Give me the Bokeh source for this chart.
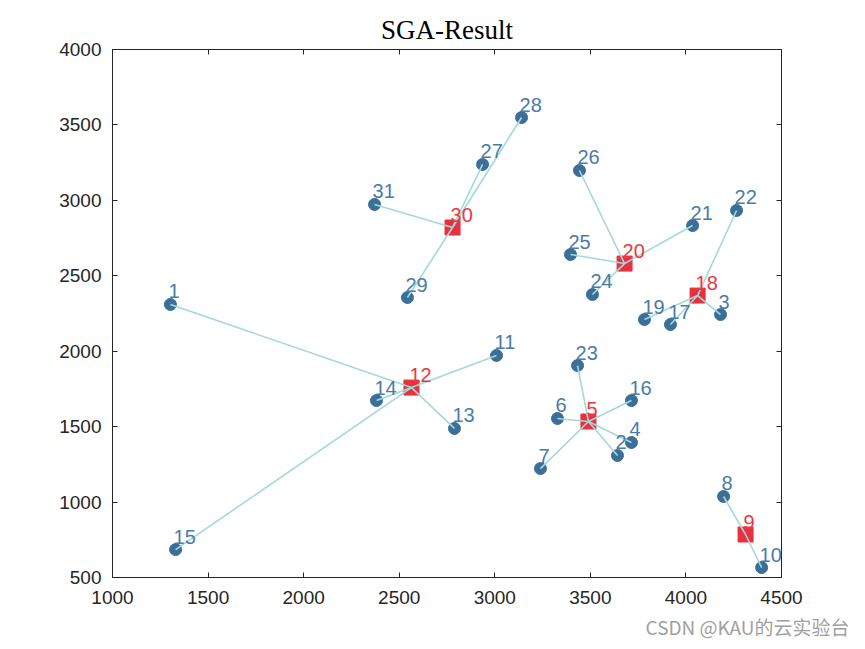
from bokeh.plotting import figure
from bokeh.models import (FixedTicker, LinearAxis, Title, Range1d,
                          CustomJSTickFormatter)
from bokeh.core.properties import value
from bokeh.embed import file_html
from bokeh.resources import INLINE

# node coordinates (node id = index + 1)
node_x = [1303, 3642, 4181, 3715, 3490, 3328, 3239, 4197, 4312, 4396,
          3009, 2564, 2789, 2381, 1330, 3715, 3919, 4061, 3783, 3679,
          4035, 4265, 3433, 3511, 3396, 3443, 2936, 3140, 2543, 2779, 2371]
node_y = [2310, 1309, 2243, 1395, 1534, 1554, 1222, 1037, 785, 566,
          1972, 1759, 1488, 1673, 685, 1673, 2177, 2369, 2210, 2581,
          2833, 2933, 1905, 2376, 2641, 3198, 3238, 3549, 2356, 2820, 2973]
depots = [5, 9, 12, 18, 20, 30]
assign = {30: [31, 27, 28, 29], 20: [26, 25, 21, 24], 18: [22, 19, 17, 3],
          5: [23, 16, 6, 4, 2, 7], 12: [1, 11, 14, 13, 15], 9: [8, 10]}
x_ticks = [1000, 1500, 2000, 2500, 3000, 3500, 4000, 4500]
y_ticks = [500, 1000, 1500, 2000, 2500, 3000, 3500, 4000]

AX = "#262626"
p = figure(frame_width=669, frame_height=528, width=856, height=641,
           min_border_left=112, min_border_right=75, min_border_top=49,
           min_border_bottom=64,
           x_range=Range1d(1000, 4500), y_range=Range1d(500, 4000),
           output_backend="svg", toolbar_location=None, x_axis_location=None,
           y_axis_location=None)
p.grid.visible = False
p.outline_line_color = AX
p.outline_line_width = 1
p.background_fill_color = "white"
p.border_fill_color = "white"

p.title.text = "SGA-Result"
p.title.align = "center"
p.title.text_font = "Liberation Serif"
p.title.text_font_style = "normal"
p.title.text_font_size = "27px"
p.title.text_color = "#000000"
p.title.standoff = 10

def mk_axis(side, ticks, labels, standoff=11):
    a = LinearAxis(ticker=FixedTicker(ticks=ticks))
    a.major_tick_in = 5
    a.major_tick_out = 0
    a.minor_tick_in = 0
    a.minor_tick_out = 0
    a.axis_line_color = AX
    a.major_tick_line_color = AX
    a.major_label_text_font = "Liberation Sans"
    a.major_label_text_font_size = "19px"
    a.major_label_text_color = AX
    a.major_label_standoff = standoff
    if not labels:
        a.formatter = CustomJSTickFormatter(code="return ''")
        a.major_label_standoff = 0
    p.add_layout(a, side)
    return a

mk_axis("below", x_ticks, True, 13)
mk_axis("left", y_ticks, True, 11)
mk_axis("above", x_ticks, False)
mk_axis("right", y_ticks, False)

# customers and depots
cx = [node_x[i] for i in range(31) if (i + 1) not in depots]
cy = [node_y[i] for i in range(31) if (i + 1) not in depots]
cl = [str(i + 1) for i in range(31) if (i + 1) not in depots]
dx = [node_x[d - 1] for d in depots]
dy = [node_y[d - 1] for d in depots]
dl = [str(d) for d in depots]

p.scatter(cx, cy, marker="circle", size=12, fill_color="#3b6f98",
          line_color="#3b6f98")
p.scatter(dx, dy, marker="square", size=15, fill_color="#e8303e",
          line_color="#e8303e")

xs, ys = [], []
for d, cs in assign.items():
    for c in cs:
        xs.append([node_x[c - 1], node_x[d - 1]])
        ys.append([node_y[c - 1], node_y[d - 1]])
p.multi_line(xs, ys, line_color="#a3d9da", line_width=1.6)

p.text(cx, cy, text=cl, text_font=value("Liberation Sans"),
       text_font_size="20px", text_color="#4a7ca6", x_offset=-2, y_offset=-13,
       text_baseline="alphabetic", text_align="left")
p.text(dx, dy, text=dl, text_font=value("Liberation Sans"),
       text_font_size="20px", text_color="#ee3744", x_offset=-2, y_offset=-13,
       text_baseline="alphabetic", text_align="left")

p.add_layout(Title(text="CSDN @KAU的云实验台", align="right", offset=-68,
                   text_font="Noto Sans CJK SC", text_font_size="19px",
                   text_font_style="normal", text_color="#a0a0a0",
                   standoff=9), "below")

open("out.html", "w").write(file_html(p, INLINE))
